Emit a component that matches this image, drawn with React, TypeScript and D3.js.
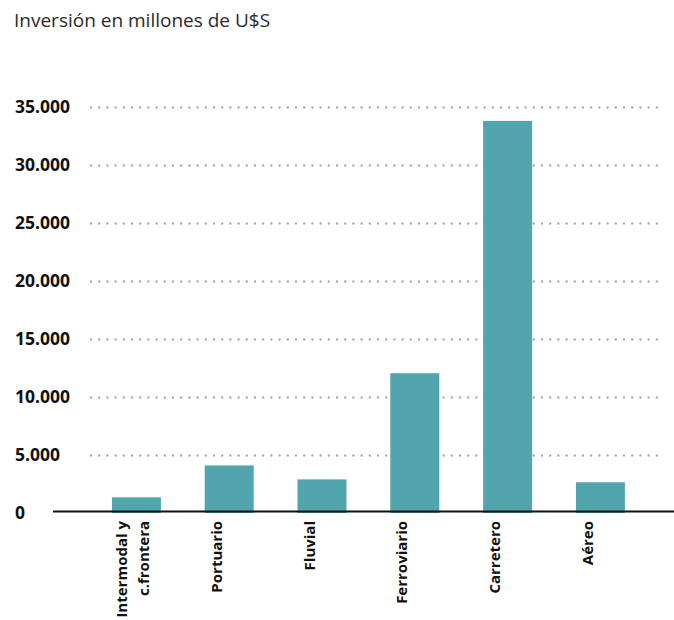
import React from "react";
import * as d3 from "d3";

const categories: string[][] = [
  ["Intermodal y", "c.frontera"],
  ["Portuario"],
  ["Fluvial"],
  ["Ferroviario"],
  ["Carretero"],
  ["Aéreo"],
];
const values: number[] = [1350, 4100, 2900, 12050, 33800, 2650];
const yTicks: number[] = [0, 5000, 10000, 15000, 20000, 25000, 30000, 35000];
const yTickLabels: string[] = ["0", "5.000", "10.000", "15.000", "20.000", "25.000", "30.000", "35.000"];
const title = "Inversión en millones de U$S";

const W = 674;
const H = 620;
const FONT = "'Open Sans', 'Noto Sans', sans-serif";
const BAR = "#51A5AE";

export default function App() {
  const keys = categories.map((c) => c.join(" "));
  const x = d3
    .scaleBand<string>()
    .domain(keys)
    .range([90, 90 + 6 * 92.8])
    .paddingInner(0.472)
    .paddingOuter(0.236);
  const y = d3.scaleLinear().domain([0, 35000]).range([513, 107]);

  return (
    <svg
      width={W}
      height={H}
      style={{ position: "absolute", left: 0, top: 0, background: "#fff" }}
      fontFamily={FONT}
    >
      <text x={14} y={27} fontSize={19} fill="#2a2a2a" fontWeight={400}>
        {title}
      </text>
      {yTicks.map((t, i) => (
        <g key={t}>
          {t > 0 && (
            <line
              x1={91}
              x2={660}
              y1={Math.round(y(t)) + 0.5}
              y2={Math.round(y(t)) + 0.5}
              stroke="#aaa"
              strokeWidth={2.4}
              strokeDasharray="0 8.2"
              strokeLinecap="round"
            />
          )}
          <text
            x={15}
            y={y(t) + 6}
            fontSize={17.5}
            fontWeight={700}
            fill="#111"
          >
            {yTickLabels[i]}
          </text>
        </g>
      ))}
      {values.map((v, i) => (
        <rect
          key={keys[i]}
          x={x(keys[i])}
          y={y(v)}
          width={x.bandwidth()}
          height={y(0) - y(v)}
          fill={BAR}
        />
      ))}
      <line x1={53} x2={674} y1={511.5} y2={511.5} stroke="#111" strokeWidth={2} />
      {categories.map((lines, i) => {
        const cx = (x(keys[i]) as number) + x.bandwidth() / 2;
        const offsets = lines.length === 1 ? [-7.5] : [-9.5, 13];
        return lines.map((ln, j) => (
          <text
            key={keys[i] + j}
            transform={`translate(${cx + offsets[j]},521) rotate(-90)`}
            textAnchor="end"
            fontSize={15}
            fontWeight={700}
            fill="#111"
          >
            {ln}
          </text>
        ));
      })}
    </svg>
  );
}
